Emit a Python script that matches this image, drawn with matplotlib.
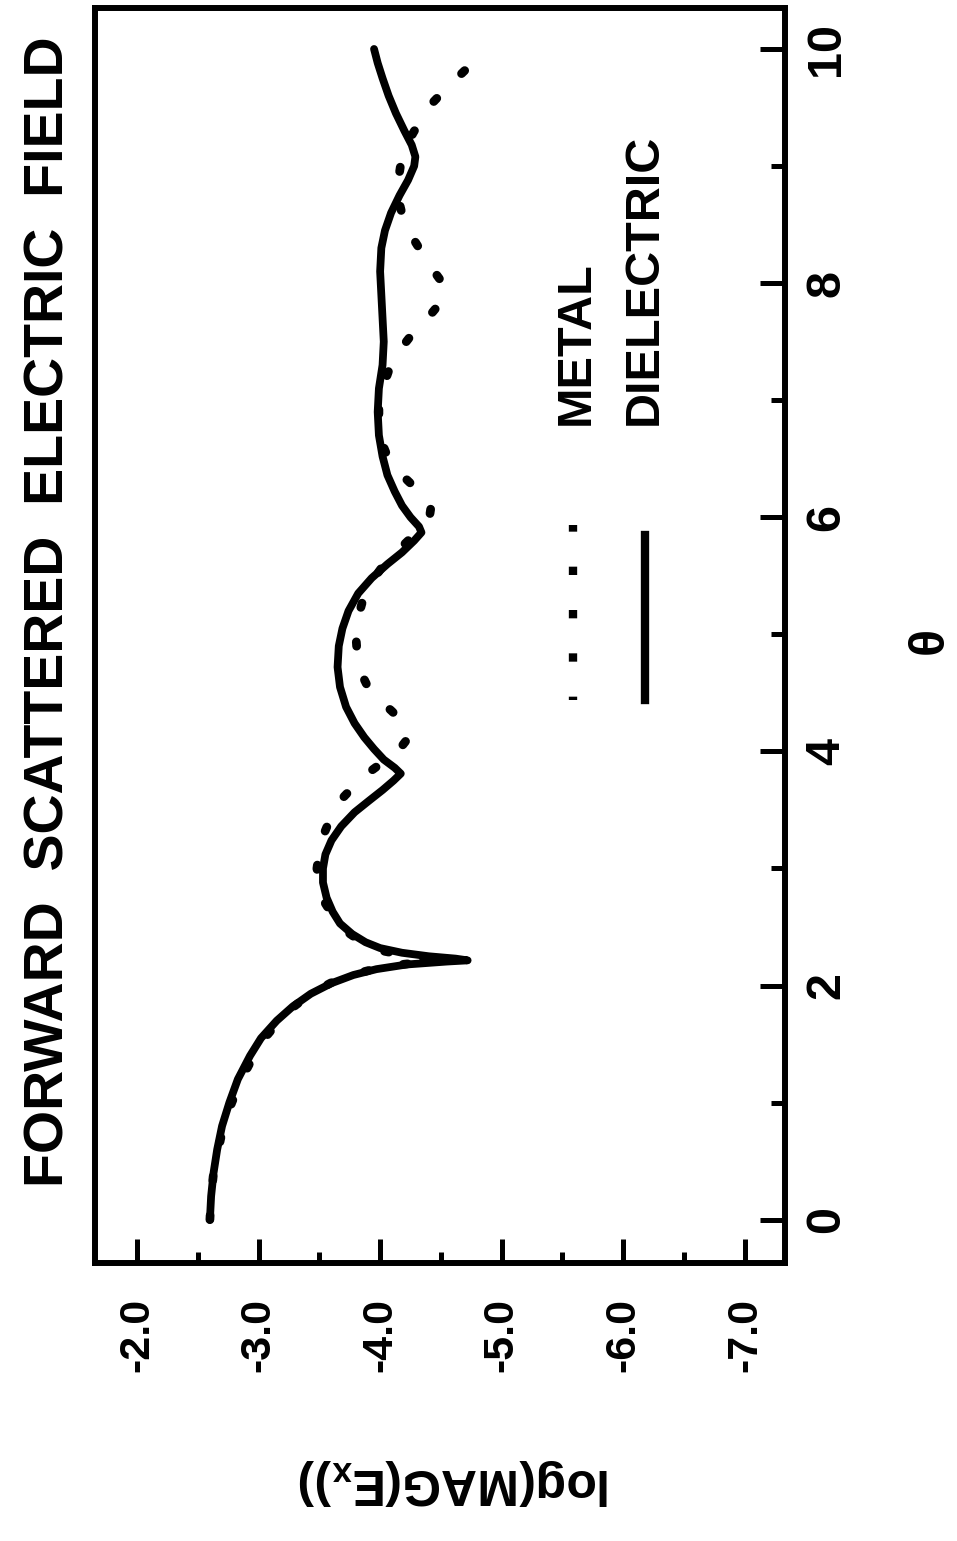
import numpy as np
import matplotlib
matplotlib.use("Agg")
import matplotlib.pyplot as plt
from matplotlib.ticker import MultipleLocator, FormatStrFormatter

# chart is printed sideways: theta runs up the page, log(MAG) runs to the right
theta_diel = [0.0, 0.2, 0.4, 0.6, 0.8, 1.0, 1.2, 1.4, 1.55, 1.7, 1.82, 1.93,
              2.02, 2.09, 2.14, 2.18, 2.205, 2.215, 2.23, 2.25, 2.28, 2.32,
              2.37, 2.44, 2.53, 2.63, 2.75, 2.88, 3.0, 3.12, 3.24, 3.36, 3.48,
              3.58, 3.67, 3.75, 3.81, 3.86, 3.93, 4.02, 4.12, 4.24, 4.38, 4.55,
              4.72, 4.9, 5.05, 5.2, 5.35, 5.48, 5.6, 5.7, 5.8, 5.87, 5.92, 6.0,
              6.1, 6.22, 6.36, 6.52, 6.7, 6.9, 7.1, 7.3, 7.5, 7.7, 7.9, 8.1,
              8.3, 8.45, 8.6, 8.75, 8.88, 9.0, 9.08, 9.18, 9.3, 9.45, 9.6, 9.75,
              9.88, 10.0]
logmag_diel = [-2.60, -2.61, -2.63, -2.66, -2.70, -2.76, -2.83, -2.93, -3.02,
               -3.15, -3.28, -3.43, -3.60, -3.78, -3.97, -4.22, -4.55, -4.72,
               -4.62, -4.40, -4.18, -4.00, -3.88, -3.77, -3.67, -3.61, -3.56,
               -3.53, -3.53, -3.55, -3.60, -3.68, -3.79, -3.91, -4.02, -4.11,
               -4.17, -4.12, -4.03, -3.95, -3.87, -3.79, -3.72, -3.67, -3.65,
               -3.66, -3.69, -3.74, -3.82, -3.93, -4.06, -4.18, -4.28, -4.34,
               -4.32, -4.25, -4.18, -4.12, -4.06, -4.02, -3.99, -3.98, -3.99,
               -4.02, -4.03, -4.02, -4.01, -4.00, -4.01, -4.04, -4.09, -4.16,
               -4.23, -4.28, -4.29, -4.26, -4.20, -4.13, -4.07, -4.02, -3.98,
               -3.95]

theta_metal = [0.0, 0.2, 0.4, 0.6, 0.8, 1.0, 1.2, 1.4, 1.55, 1.7, 1.82, 1.93,
               2.02, 2.09, 2.14, 2.18, 2.21, 2.23, 2.26, 2.3, 2.37, 2.45, 2.55,
               2.7, 2.85, 3.0, 3.15, 3.3, 3.45, 3.6, 3.72, 3.83, 3.93, 4.02,
               4.1, 4.17, 4.25, 4.35, 4.45, 4.57, 4.7, 4.85, 5.0, 5.15, 5.3,
               5.45, 5.58, 5.7, 5.82, 5.93, 6.03, 6.1, 6.18, 6.28, 6.4, 6.52,
               6.65, 6.8, 6.95, 7.1, 7.25, 7.4, 7.52, 7.64, 7.75, 7.85, 7.93,
               8.02, 8.12, 8.25, 8.4, 8.55, 8.72, 8.88, 9.02, 9.15, 9.28, 9.42,
               9.55, 9.68, 9.8, 9.9]
logmag_metal = [-2.60, -2.61, -2.63, -2.67, -2.71, -2.78, -2.86, -2.96, -3.05,
                -3.17, -3.29, -3.43, -3.59, -3.76, -3.95, -4.18, -4.45, -4.40,
                -4.20, -4.00, -3.85, -3.74, -3.64, -3.55, -3.50, -3.48, -3.50,
                -3.54, -3.60, -3.69, -3.80, -3.92, -4.05, -4.16, -4.22, -4.23,
                -4.19, -4.09, -3.98, -3.89, -3.83, -3.81, -3.80, -3.82, -3.86,
                -3.93, -4.02, -4.13, -4.25, -4.35, -4.41, -4.42, -4.37, -4.26,
                -4.14, -4.06, -4.01, -3.99, -3.99, -4.02, -4.07, -4.14, -4.23,
                -4.32, -4.43, -4.51, -4.54, -4.50, -4.43, -4.35, -4.26, -4.19,
                -4.15, -4.15, -4.17, -4.21, -4.27, -4.35, -4.44, -4.56, -4.68,
                -4.78]

ytick_vals = [-2.0, -3.0, -4.0, -5.0, -6.0, -7.0]
theta_ticks = [0, 2, 4, 6, 8, 10]

plt.rcParams['font.family'] = ['Liberation Sans', 'DejaVu Sans']
plt.rcParams['font.weight'] = 'bold'
plt.rcParams['mathtext.fontset'] = 'custom'
plt.rcParams['mathtext.bf'] = 'Liberation Sans:bold'
plt.rcParams['mathtext.rm'] = 'Liberation Sans:bold'

fig = plt.figure(figsize=(9.57, 15.41), dpi=100)
ax = fig.add_axes([95 / 957, 1 - 1263 / 1541, 690 / 957, 1255 / 1541])

ax.plot(logmag_metal, theta_metal, color='black', linewidth=6.3,
        linestyle=(0, (0.5, 4.0)), dash_capstyle='round')
ax.plot(logmag_diel, theta_diel, color='black', linewidth=5.6,
        solid_capstyle='round', solid_joinstyle='round')

ax.set_xlim(-1.655, -7.33)
ax.set_ylim(-0.37, 10.35)

for side in ['top', 'left', 'bottom', 'right']:
    ax.spines[side].set_linewidth(4.3)

ax.xaxis.set_major_locator(plt.FixedLocator(ytick_vals))
ax.xaxis.set_minor_locator(MultipleLocator(0.5))
ax.xaxis.set_major_formatter(FormatStrFormatter('%.1f'))
ax.yaxis.set_major_locator(plt.FixedLocator(theta_ticks))
ax.yaxis.set_minor_locator(MultipleLocator(1))
ax.yaxis.tick_right()

ax.tick_params(axis='x', which='major', direction='in', length=17, width=3.6,
               labelsize=31, labelrotation=90, pad=25, top=False)
ax.tick_params(axis='x', which='minor', direction='in', length=8, width=3.6, top=False)
ax.tick_params(axis='y', which='major', direction='in', length=18, width=3.6,
               labelsize=35, labelrotation=90, pad=14, left=False)
ax.tick_params(axis='y', which='minor', direction='in', length=10, width=3.6, left=False)
for lab in ax.get_yticklabels():
    lab.set_verticalalignment('center')

# legend drawn sideways like the rest of the chart
ax.plot([-5.59, -5.59], [4.44, 5.93], color='black', linewidth=6,
        linestyle=(0.6, (1, 4.2)), dash_capstyle='butt')
ax.plot([-6.18, -6.18], [4.44, 5.85], color='black', linewidth=6)
ax.text(-5.61, 6.79, 'METAL', rotation=90, ha='center', va='bottom', fontsize=35)
ax.text(-6.17, 6.79, 'DIELECTRIC', rotation=90, ha='center', va='bottom', fontsize=35)

fig.text(50 / 957, 1 - 612 / 1541, 'FORWARD  SCATTERED  ELECTRIC  FIELD',
         rotation=90, ha='center', va='center', fontsize=40)
fig.text(930 / 957, 1 - 640 / 1541, 'θ', rotation=90, ha='center', va='center',
         fontsize=36)
fig.text(455 / 957, 1 - 1482 / 1541, r'log(MAG(E$_\mathbf{x}$))', rotation=180,
         ha='center', va='center', fontsize=36)

fig.savefig('out.png', dpi=100)
